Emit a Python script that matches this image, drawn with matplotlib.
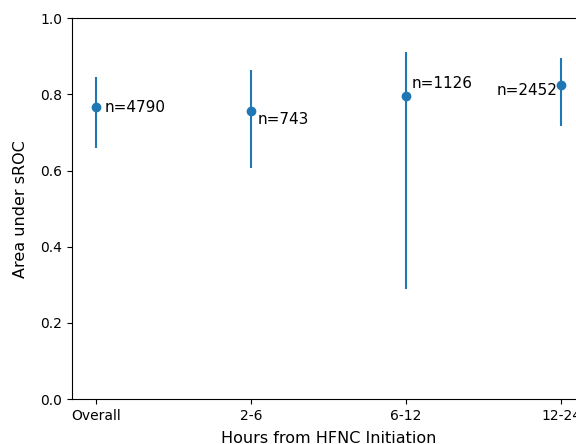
from matplotlib import pyplot as plt
import numpy as np

categories = ['Overall', '2-6', '6-12', '12-24']
auc = [0.766, 0.756, 0.795, 0.824]
lower = [0.659, 0.606, 0.289, 0.717]
upper = [0.845, 0.864, 0.911, 0.895]
counts = [4790, 743, 1126, 2452]


def main():
    fig = plt.figure(figsize=(5.76, 4.44), dpi=100)
    ax = fig.add_axes([0.125, 0.101, 0.891, 0.858])

    x = np.arange(len(categories))
    auc_a = np.array(auc)
    yerr = [auc_a - np.array(lower), np.array(upper) - auc_a]
    ax.errorbar(x, auc, yerr=yerr, fmt='o', color='#1f77b4', lw=1.5, ms=6)

    # label offsets in points (px at 100 dpi)
    offsets = [(6.5, 0, 'left'), (5, -6, 'left'),
               (3.6, 9.4, 'left'), (-3, -3.6, 'right')]
    for xi, yi, n, (dx, dy, ha) in zip(x, auc, counts, offsets):
        ax.annotate('n=%i' % n, (xi, yi), xytext=(dx, dy), textcoords='offset points',
                    ha=ha, va='center', fontsize=11)

    ax.set_xticks(x)
    ax.set_xticklabels(categories)
    ax.set_xlim(-0.155, 3.155)
    ax.set_ylim(0, 1)
    ax.set_xlabel('Hours from HFNC Initiation', fontsize=11.5, labelpad=6)
    ax.set_ylabel('Area under sROC', fontsize=11.5, labelpad=9)

    fig.savefig('out.png', dpi=100)


if __name__ == '__main__':
    main()
